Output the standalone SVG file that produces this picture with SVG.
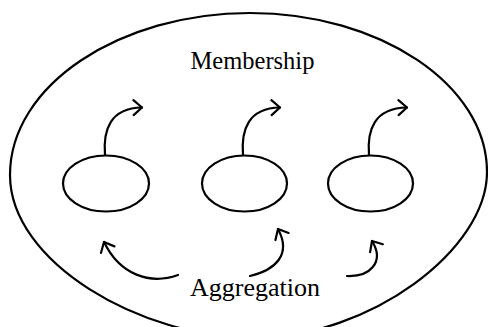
<svg xmlns="http://www.w3.org/2000/svg" width="488" height="327" viewBox="0 0 488 327">
<style>
.ln{fill:none;stroke:#000;stroke-width:2.2;stroke-linecap:round;stroke-linejoin:round}
.tx{font-family:"Liberation Serif","Times New Roman",serif;fill:#000;text-anchor:middle}
</style>
<defs>
<marker id="ah" viewBox="-12 -9 14 18" markerWidth="14" markerHeight="18" refX="0" refY="0" orient="auto" markerUnits="userSpaceOnUse">
<path d="M-8.5,-7.5 L0,0 L-8.5,7.5" fill="none" stroke="#000" stroke-width="2.2" stroke-linecap="round" stroke-linejoin="round"/>
</marker>
</defs>
<rect width="488" height="327" fill="#fff"/>
<g id="membership">
<path class="ln" d="M250,13 C380,13 487,85 487,172 C487,250 370,337 255,338 C140,338 10,262 10,175 C10,85 120,13 250,13 Z"/>
<text class="tx" x="252.5" y="69" font-size="24.5">Membership</text>
</g>
<g id="node1"><ellipse class="ln" cx="106" cy="183.5" rx="43" ry="28"/></g>
<g id="node2"><ellipse class="ln" cx="244.5" cy="183.5" rx="42.5" ry="28"/></g>
<g id="node3"><ellipse class="ln" cx="370.5" cy="183.5" rx="42.5" ry="28"/></g>
<g id="aggregation"><text class="tx" x="255" y="296" font-size="26">Aggregation</text></g>
<g id="connectors">
<path class="ln" marker-end="url(#ah)" d="M105,155 C103,130 110,108 142,107.5"/>
<path class="ln" marker-end="url(#ah)" d="M243,155 C241,130 248,108 280,107.5"/>
<path class="ln" marker-end="url(#ah)" d="M369,155 C367,130 374,108 407,107.5"/>
<path class="ln" marker-end="url(#ah)" d="M178,275 C150,285 120,275 104,242"/>
<path class="ln" marker-end="url(#ah)" d="M250,276 C275,270 292,255 278,229"/>
<path class="ln" marker-end="url(#ah)" d="M347,276 C370,277 385,262 372,241"/>
</g>
</svg>
